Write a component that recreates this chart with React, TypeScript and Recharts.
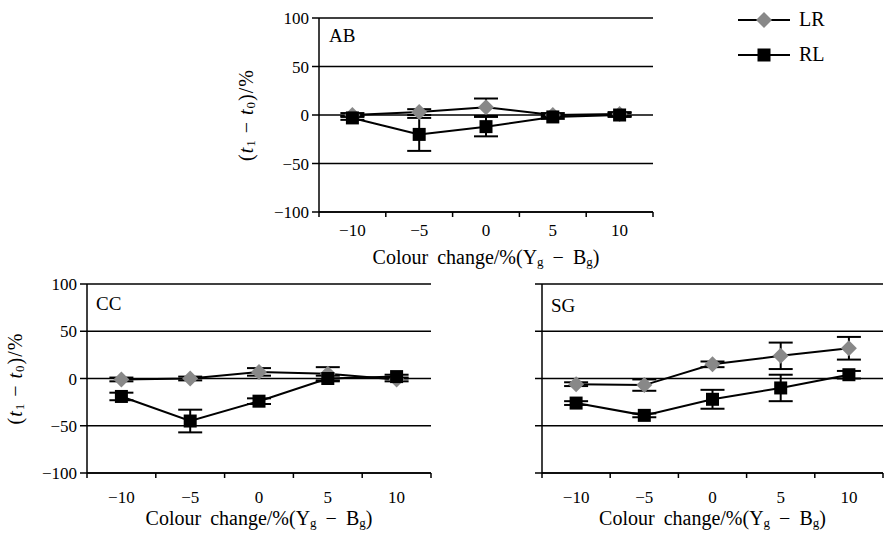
import React from 'react'
import { LineChart, Line, XAxis, YAxis, CartesianGrid, ErrorBar, Legend } from 'recharts'

const categories = ['-10', '-5', '0', '5', '10']
const yTicks = [-100, -50, 0, 50, 100]

// AB
const abLR = [0, 3, 8, 0, 1]
const abLRErr = [2, 3, 9, 2, 2]
const abRL = [-3, -20, -12, -2, 0]
const abRLErr = [2, 17, 10, 2, 2]

// CC
const ccLR = [-1, 0, 7, 5, -1]
const ccLRErr = [2, 2, 4, 7, 2]
const ccRL = [-19, -45, -24, 0, 2]
const ccRLErr = [4, 12, 3, 3, 2]

// SG
const sgLR = [-6, -7, 15, 24, 32]
const sgLRErr = [2, 6, 3, 14, 12]
const sgRL = [-26, -39, -22, -10, 4]
const sgRLErr = [2, 2, 10, 14, 4]

const FONT = 'Liberation Serif, Times New Roman, Tinos, Noto Serif, DejaVu Serif, Times, serif'

const buildData = (lr: number[], lrErr: number[], rl: number[], rlErr: number[]) =>
  categories.map((c, i) => ({ x: c, lr: lr[i], lrErr: lrErr[i], rl: rl[i], rlErr: rlErr[i] }))

const minus = (v: any) => String(v).replace('-', '\u2212')

const Diamond = (props: any) => {
  const { cx, cy } = props
  if (cx == null || cy == null) return null
  const r = 8
  return <polygon points={`${cx},${cy - r} ${cx + r},${cy} ${cx},${cy + r} ${cx - r},${cy}`} fill="#888888" />
}

const Square = (props: any) => {
  const { cx, cy } = props
  if (cx == null || cy == null) return null
  return <rect x={cx - 6.5} y={cy - 6.5} width={13} height={13} fill="#000" />
}

interface PanelProps {
  name: string
  lr: number[]
  lrErr: number[]
  rl: number[]
  rlErr: number[]
  left: number
  top: number
  width: number
  height: number
  yAxisWidth: number
  marginTop: number
  marginRight: number
  plotBottom: number
  tickDy: number
  nameX: number
  nameY: number
  showYLabels?: boolean
  yLabelX?: number
  showLegend?: boolean
}

function Panel(p: PanelProps) {
  const data = buildData(p.lr, p.lrErr, p.rl, p.rlErr)
  const plotWidth = p.width - p.yAxisWidth - p.marginRight
  const band = plotWidth / categories.length
  const plotHeight = p.plotBottom - p.marginTop
  const xAxisHeight = p.height - p.plotBottom

  const XTick = (props: any) => {
    const { x, payload, index } = props
    return (
      <g>
        <line x1={x - band / 2} x2={x - band / 2} y1={p.plotBottom} y2={p.plotBottom + 5} stroke="#000" strokeWidth={1.5} />
        {index === categories.length - 1 && (
          <line x1={x + band / 2} x2={x + band / 2} y1={p.plotBottom} y2={p.plotBottom + 5} stroke="#000" strokeWidth={1.5} />
        )}
        <text x={x} y={p.plotBottom + p.tickDy} textAnchor="middle" dominantBaseline="central" fontSize={17} fontFamily={FONT} fill="#000">
          {minus(payload.value)}
        </text>
      </g>
    )
  }

  const XLabel = () => {
    const cx = p.yAxisWidth + plotWidth / 2
    return (
      <g>
        <text x={cx} y={p.plotBottom + 45} textAnchor="middle" dominantBaseline="central" fontSize={20} fontFamily={FONT} fill="#000" wordSpacing={4}>
          Colour change/%(Y<tspan fontSize={13} dy={4}>g</tspan>
          <tspan dy={-4}> {'\u2212'} B</tspan>
          <tspan fontSize={13} dy={4}>g</tspan>
          <tspan dy={-4}>)</tspan>
        </text>
        <text x={p.nameX} y={p.nameY} dominantBaseline="central" fontSize={19} fontFamily={FONT} fill="#000">
          {p.name}
        </text>
      </g>
    )
  }

  const YLabel = () => {
    if (!p.showYLabels) return null
    const cy = p.marginTop + plotHeight / 2
    return (
      <text
        transform={`translate(${p.yLabelX},${cy}) rotate(-90)`}
        textAnchor="middle"
        dominantBaseline="central"
        fontSize={20}
        fontFamily={FONT}
        fill="#000"
        letterSpacing={1}
      >
        (<tspan fontStyle="italic">t</tspan>
        <tspan fontSize={13} dy={4}>1</tspan>
        <tspan dy={-4}> {'\u2212'} </tspan>
        <tspan fontStyle="italic">t</tspan>
        <tspan fontSize={13} dy={4}>0</tspan>
        <tspan dy={-4}>)/%</tspan>
      </text>
    )
  }

  const LegendContent = (props: any) => {
    const payload = props.payload || []
    return (
      <div style={{ fontFamily: FONT, fontSize: 20, color: '#000' }}>
        {payload.map((entry: any) => (
          <div key={entry.value} style={{ display: 'flex', alignItems: 'center', height: 35 }}>
            <svg width={52} height={20} style={{ marginRight: 9 }}>
              <line x1={0} x2={52} y1={10} y2={10} stroke="#000" strokeWidth={2} />
              {entry.value === 'LR' ? (
                <polygon points="26,2 34,10 26,18 18,10" fill="#888888" />
              ) : (
                <rect x={19.5} y={3.5} width={13} height={13} fill="#000" />
              )}
            </svg>
            <span>{entry.value}</span>
          </div>
        ))}
      </div>
    )
  }

  return (
    <div style={{ position: 'absolute', left: p.left, top: p.top, width: p.width, height: p.height }}>
      <LineChart
        width={p.width}
        height={p.height}
        data={data}
        margin={{ top: p.marginTop, right: p.marginRight, bottom: 0, left: 0 }}
      >
        <CartesianGrid vertical={false} stroke="#000" strokeWidth={1.5} />
        <XAxis
          dataKey="x"
          type="category"
          height={xAxisHeight}
          padding={{ left: band / 2, right: band / 2 }}
          axisLine={{ stroke: '#000', strokeWidth: 1.5 }}
          tickLine={false}
          tick={XTick}
          interval={0}
          label={XLabel}
        />
        <YAxis
          type="number"
          domain={[-100, 100]}
          ticks={yTicks}
          width={p.yAxisWidth}
          axisLine={{ stroke: '#000', strokeWidth: 1.5 }}
          tickLine={{ stroke: '#000', strokeWidth: 1.5 }}
          tickSize={7}
          tickMargin={3}
          tick={{ fontSize: 17, fontFamily: FONT, fill: '#000' }}
          tickFormatter={p.showYLabels ? minus : () => ''}
          label={YLabel}
        />
        {p.showLegend && (
          <Legend
            layout="vertical"
            align="center"
            verticalAlign="middle"
            content={LegendContent}
            wrapperStyle={{ left: 508, top: 2, width: 120 }}
          />
        )}
        <Line
          dataKey="lr"
          name="LR"
          type="linear"
          stroke="#000"
          strokeWidth={2}
          dot={Diamond}
          activeDot={false}
          isAnimationActive={false}
        >
          <ErrorBar dataKey="lrErr" width={12} stroke="#000" strokeWidth={2} direction="y" />
        </Line>
        <Line
          dataKey="rl"
          name="RL"
          type="linear"
          stroke="#000"
          strokeWidth={2}
          dot={Square}
          activeDot={false}
          isAnimationActive={false}
        >
          <ErrorBar dataKey="rlErr" width={12} stroke="#000" strokeWidth={2} direction="y" />
        </Line>
      </LineChart>
    </div>
  )
}

export default function App() {
  return (
    <div style={{ position: 'absolute', left: 0, top: 0, width: 885, height: 535, background: '#fff' }}>
      <Panel
        name="AB"
        lr={abLR}
        lrErr={abLRErr}
        rl={abRL}
        rlErr={abRLErr}
        left={230}
        top={0}
        width={655}
        height={270}
        yAxisWidth={89}
        marginTop={18}
        marginRight={232}
        plotBottom={212}
        tickDy={18}
        nameX={99}
        nameY={35}
        showYLabels
        yLabelX={16}
        showLegend
      />
      <Panel
        name="CC"
        lr={ccLR}
        lrErr={ccLRErr}
        rl={ccRL}
        rlErr={ccRLErr}
        left={0}
        top={270}
        width={440}
        height={265}
        yAxisWidth={87}
        marginTop={14}
        marginRight={9}
        plotBottom={203}
        tickDy={24}
        nameX={96}
        nameY={33}
        showYLabels
        yLabelX={15}
      />
      <Panel
        name="SG"
        lr={sgLR}
        lrErr={sgLRErr}
        rl={sgRL}
        rlErr={sgRLErr}
        left={440}
        top={270}
        width={445}
        height={265}
        yAxisWidth={102}
        marginTop={14}
        marginRight={2}
        plotBottom={203}
        tickDy={24}
        nameX={111}
        nameY={35}
      />
    </div>
  )
}
